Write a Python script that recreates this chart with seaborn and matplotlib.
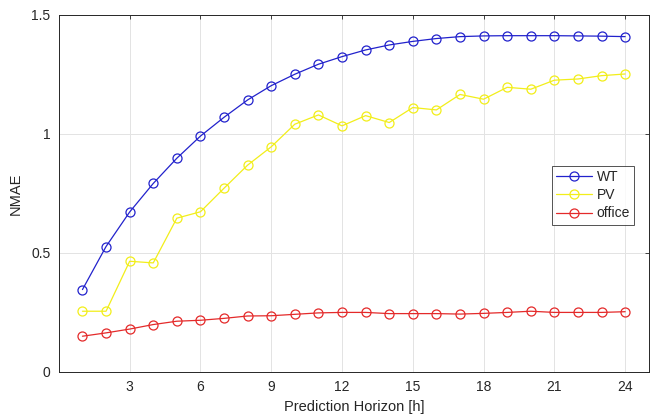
import numpy as np
import pandas as pd
import seaborn as sns
import matplotlib
matplotlib.use("Agg")
import matplotlib.pyplot as plt

horizon = list(range(1, 25))
wt = [0.346, 0.527, 0.672, 0.792, 0.898, 0.991, 1.070, 1.143, 1.203, 1.251,
      1.293, 1.325, 1.353, 1.374, 1.389, 1.401, 1.409, 1.412, 1.413, 1.413,
      1.413, 1.412, 1.411, 1.409]
pv = [0.255, 0.255, 0.465, 0.458, 0.646, 0.673, 0.772, 0.869, 0.946, 1.041,
      1.080, 1.034, 1.077, 1.048, 1.111, 1.101, 1.166, 1.146, 1.196, 1.188,
      1.226, 1.231, 1.245, 1.252]
office = [0.150, 0.164, 0.180, 0.199, 0.213, 0.217, 0.225, 0.235, 0.236, 0.242,
          0.248, 0.250, 0.250, 0.245, 0.245, 0.245, 0.243, 0.246, 0.250, 0.255,
          0.250, 0.250, 0.250, 0.253]
series = ["WT", "PV", "office"]
colors = {"WT": "#2222cc", "PV": "#f2ee1a", "office": "#e42a2a"}

df = pd.DataFrame({
    "h": horizon * 3,
    "NMAE": wt + pv + office,
    "series": np.repeat(series, len(horizon)),
})

sns.set_style("white")
plt.rcParams["font.family"] = ["Liberation Sans", "DejaVu Sans"]
plt.rcParams["font.size"] = 10

fig = plt.figure(figsize=(6.54, 4.16), dpi=100)
ax = fig.add_axes([0.090, 0.106, 0.902, 0.858])

for name in series:
    sub = df[df["series"] == name]
    sns.lineplot(data=sub, x="h", y="NMAE", ax=ax, color=colors[name],
                 marker="o", markersize=6.5, mfc="none", mec=colors[name],
                 mew=0.9, linewidth=0.9, label=name)

ax.set_xlim(0, 25)
ax.set_ylim(0, 1.5)
ax.set_xticks(range(3, 25, 3))
ax.set_yticks([0, 0.5, 1, 1.5])
ax.set_yticklabels(["0", "0.5", "1", "1.5"])
ax.grid(True, color="#e3e3e3", linewidth=0.7)
ax.tick_params(direction="in", length=3, width=0.6, colors="#262626",
               top=True, right=True, labelsize=10, pad=6)
for s in ax.spines.values():
    s.set_color("#262626")
    s.set_linewidth(0.7)
ax.set_xlabel("Prediction Horizon [h]", fontsize=10.5, color="#262626", labelpad=4)
ax.set_ylabel("NMAE", fontsize=10.5, color="#262626", labelpad=6)

leg = ax.legend(loc="upper right", bbox_to_anchor=(0.975, 0.577), frameon=True,
                fancybox=False, edgecolor="#262626", fontsize=10,
                handlelength=2.6, borderpad=0.3, labelspacing=0.3,
                handletextpad=0.3, borderaxespad=0)
leg.get_frame().set_linewidth(0.7)

fig.savefig("out.png", dpi=100)
